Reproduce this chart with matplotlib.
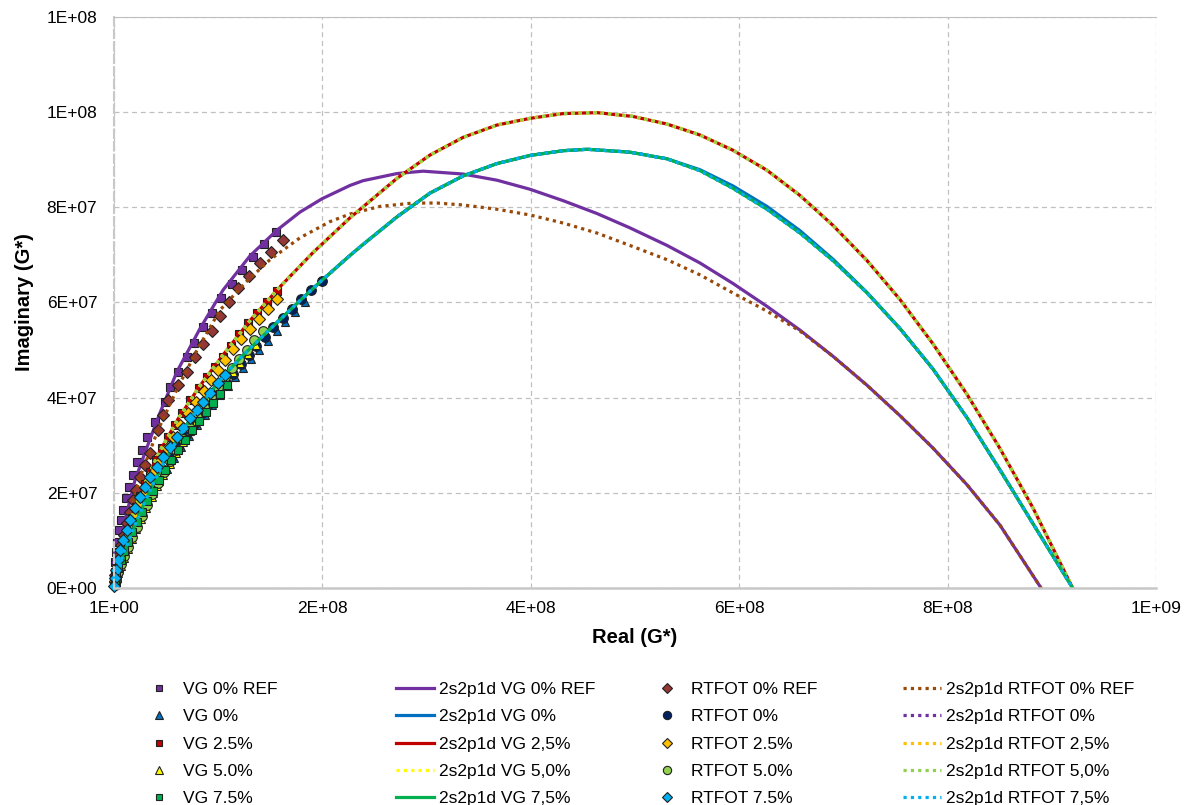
import numpy as np
import matplotlib.pyplot as plt
from matplotlib.lines import Line2D

plt.rcParams['font.family'] = ['Liberation Sans', 'DejaVu Sans']

# ---- model curves (x in 1e8, y in 1e7) ----
ref_vg_fit_x = [0, 0.038, 0.106, 0.202, 0.317, 0.441, 0.605, 0.825, 1.046, 1.305, 1.564, 1.785, 1.996,
                2.265, 2.39, 2.716, 2.966, 3.35, 3.676, 3.992, 4.31, 4.635, 4.95, 5.307, 5.624, 5.94,
                6.266, 6.583, 6.90, 7.227, 7.544, 7.86, 8.186, 8.503, 8.897]
ref_vg_fit_y = [0, 0.588, 1.43, 2.27, 2.96, 3.68, 4.55, 5.45, 6.26, 6.98, 7.52, 7.90, 8.18,
                8.46, 8.56, 8.71, 8.76, 8.70, 8.57, 8.38, 8.14, 7.87, 7.57, 7.20, 6.83, 6.40,
                5.92, 5.42, 4.87, 4.26, 3.62, 2.94, 2.17, 1.32, 0]

ref_rt_fit_x = [0, 0.058, 0.125, 0.250, 0.422, 0.614, 0.797, 1.017, 1.276, 1.497, 1.785, 2.073, 2.265,
                2.553, 2.87, 3.10, 3.35, 3.676, 3.992, 4.31, 4.635, 4.95, 5.307, 5.624, 5.94, 6.266,
                6.583, 6.90, 7.227, 7.544, 7.86, 8.186, 8.503, 8.897]
ref_rt_fit_y = [0, 0.693, 1.366, 2.33, 3.32, 4.22, 5.00, 5.84, 6.45, 6.90, 7.36, 7.70, 7.86,
                8.02, 8.09, 8.09, 8.05, 7.96, 7.84, 7.67, 7.46, 7.20, 6.90, 6.58, 6.20, 5.82,
                5.40, 4.87, 4.26, 3.62, 2.94, 2.17, 1.32, 0]

# curves for VG 2,5% / VG 5,0% / RTFOT 2,5% / RTFOT 5,0%
top_fit_x = [0, 0.077, 0.173, 0.298, 0.441, 0.614, 0.825, 1.065, 1.305, 1.593, 1.910, 2.265, 2.716,
             3.033, 3.35, 3.676, 3.992, 4.31, 4.635, 4.981, 5.307, 5.624, 5.94, 6.266, 6.583, 6.90,
             7.227, 7.544, 7.86, 8.186, 8.503, 8.82, 9.20]
top_fit_y = [0, 0.80, 1.50, 2.20, 2.88, 3.55, 4.25, 4.95, 5.62, 6.33, 7.05, 7.78, 8.61,
             9.10, 9.47, 9.73, 9.87, 9.97, 9.99, 9.91, 9.75, 9.52, 9.20, 8.78, 8.25, 7.62,
             6.88, 6.06, 5.13, 4.07, 2.93, 1.68, 0]

# curves for VG 0% / VG 7,5% / RTFOT 0% / RTFOT 7,5%
mid_fit_x = [0, 0.086, 0.182, 0.278, 0.374, 0.489, 0.662, 0.854, 1.046, 1.238, 1.430, 1.612, 1.785,
             1.977, 2.265, 2.39, 2.716, 3.033, 3.35, 3.676, 3.992, 4.31, 4.54, 4.95, 5.307, 5.624,
             5.94, 6.266, 6.583, 6.90, 7.227, 7.544, 7.86, 8.186, 8.503, 8.82, 9.20]
mid_fit_y = [0, 0.69, 1.22, 1.72, 2.18, 2.68, 3.32, 3.92, 4.44, 4.89, 5.30, 5.68, 6.04,
             6.43, 6.99, 7.22, 7.80, 8.30, 8.66, 8.92, 9.09, 9.19, 9.22, 9.16, 9.02, 8.77,
             8.40, 7.96, 7.46, 6.88, 6.20, 5.45, 4.60, 3.58, 2.48, 1.35, 0]
vg0_fit_y = [0, 0.69, 1.22, 1.72, 2.18, 2.68, 3.32, 3.92, 4.44, 4.89, 5.30, 5.68, 6.04,
             6.43, 6.99, 7.22, 7.80, 8.30, 8.66, 8.92, 9.09, 9.19, 9.22, 9.16, 9.02, 8.79,
             8.45, 8.02, 7.51, 6.91, 6.21, 5.45, 4.60, 3.58, 2.48, 1.35, 0]

# ---- measured points (x, y in 1e6) ----
vg_ref_x = [155.5, 144.0, 133.4, 122.8, 113.2, 102.7, 94.1, 85.4, 76.8, 70.1, 61.4, 53.7, 48.9, 39.3,
            31.7, 26.9, 22.1, 18.2, 14.4, 11.5, 8.6, 6.7, 4.8, 2.9, 1.9, 1.0, 0.5, 0.2]
vg_ref_y = [74.8, 72.3, 69.5, 66.8, 63.9, 60.9, 57.8, 54.8, 51.5, 48.5, 45.4, 42.2, 39.1, 34.9,
            31.7, 29.0, 26.5, 23.7, 21.2, 18.9, 16.4, 14.3, 12.2, 9.7, 7.6, 5.5, 3.4, 1.7]

rt_ref_x = [162.2, 150.7, 140.1, 129.6, 119.0, 110.4, 101.7, 94.1, 85.4, 77.7, 70.1, 61.4, 51.8, 47.0,
            42.2, 34.5, 29.8, 25.0, 21.1, 18.2, 15.4, 12.5, 9.6, 6.7, 4.8, 2.9, 1.4, 0.5]
rt_ref_y = [73.1, 70.6, 68.3, 65.6, 63.0, 60.1, 57.1, 54.0, 51.3, 48.5, 45.4, 42.7, 39.5, 36.3,
            33.2, 28.4, 25.8, 23.3, 20.6, 18.5, 16.0, 13.7, 11.1, 9.0, 6.9, 4.8, 2.7, 1.3]

vg0_x = [183.0, 173.5, 164.5, 156.0, 147.5, 139.5, 131.5, 124.0, 116.5, 109.0, 102.0, 94.5, 87.0,
         79.5, 72.0, 64.5, 57.5, 50.5, 43.5, 37.0, 31.0, 25.5, 20.5, 15.8, 11.8, 8.0, 5.0, 2.2, 0.6]
vg0_y = [60.0, 58.0, 56.0, 54.0, 52.0, 50.1, 48.2, 46.3, 44.4, 42.5, 40.5, 38.5, 36.4,
         34.2, 32.0, 29.6, 27.3, 25.0, 22.5, 20.0, 17.6, 15.3, 13.0, 10.7, 8.6, 6.4, 4.5, 2.6, 0.9]

rt0_x = [199.6, 189.1, 179.5, 170.8, 162.2, 152.6, 144.9, 136.3, 129.6, 121.9, 114.2, 107.5, 99.8,
         92.1, 84.5, 76.8, 69.1, 61.4, 54.7, 48.0, 41.3, 35.5, 29.8, 25.0, 20.2, 15.4, 11.5, 7.7,
         4.8, 1.9, 0.5]
rt0_y = [64.5, 62.6, 60.7, 58.6, 56.7, 54.8, 52.7, 50.8, 49.0, 47.1, 45.0, 43.1, 41.0,
         38.9, 36.8, 34.5, 32.1, 29.6, 27.3, 24.8, 22.3, 19.7, 17.4, 15.1, 12.8, 10.5, 8.4, 6.3,
         4.4, 2.5, 0.8]

vg25_x = [156.4, 146.8, 137.2, 128.6, 120.0, 112.3, 104.6, 96.9, 89.3, 81.6, 72.9, 65.3, 58.5, 51.8,
          46.1, 40.3, 34.5, 29.8, 25.0, 21.1, 17.3, 13.4, 10.6, 7.7, 5.8, 3.8, 1.9, 1.0]
vg25_y = [62.4, 60.1, 57.8, 55.7, 53.4, 50.8, 48.5, 46.4, 44.3, 42.0, 39.5, 36.8, 34.2, 31.7,
          29.4, 26.9, 24.4, 21.9, 19.3, 17.0, 14.7, 12.2, 10.1, 8.0, 5.9, 4.2, 2.5, 1.1]

rt25_x = [156.4, 147.8, 139.2, 130.5, 121.9, 114.2, 106.5, 99.8, 93.1, 86.4, 78.7, 71.0, 63.3, 56.6,
          50.9, 45.1, 39.3, 33.6, 28.8, 24.0, 20.2, 16.3, 12.5, 9.6, 6.7, 4.8, 2.9, 1.0]
rt25_y = [60.7, 58.6, 56.5, 54.4, 52.3, 50.2, 47.9, 45.8, 43.7, 41.4, 39.1, 36.8, 34.2, 31.7,
          29.4, 26.9, 24.6, 22.1, 19.7, 17.4, 15.1, 12.8, 10.7, 8.6, 6.5, 4.8, 3.2, 1.5]

vg50_x = [136.0, 128.5, 121.0, 114.0, 107.0, 100.0, 93.0, 86.0, 79.0, 72.5, 66.0, 59.5, 53.5,
          47.5, 41.5, 36.0, 31.0, 26.0, 21.5, 17.0, 13.0, 9.5, 6.5, 3.8, 1.8, 0.5]
vg50_y = [51.0, 49.1, 47.2, 45.3, 43.4, 41.4, 39.4, 37.3, 35.2, 33.0, 30.7, 28.4, 26.1,
          23.8, 21.5, 19.2, 16.9, 14.6, 12.4, 10.3, 8.3, 6.4, 4.7, 3.1, 1.7, 0.6]

rt50_x = [143.0, 134.4, 127.6, 120.0, 113.2, 106.5, 99.8, 93.1, 86.4, 79.7, 72.9, 66.2, 59.5, 53.7,
          48.0, 42.2, 36.5, 31.7, 26.9, 22.1, 17.3, 13.4, 9.6, 6.7, 3.8, 1.9, 0.5]
rt50_y = [54.0, 52.1, 50.0, 48.1, 46.2, 44.3, 42.2, 40.1, 38.0, 35.9, 33.6, 31.3, 29.0, 26.7,
          24.4, 22.1, 19.7, 17.4, 15.1, 12.8, 10.7, 8.6, 6.7, 5.0, 3.4, 1.9, 0.6]

vg75_x = [108.4, 101.7, 95.0, 88.3, 81.6, 74.9, 68.1, 61.4, 54.7, 48.9, 43.2, 37.4, 31.7, 26.9,
          22.1, 17.3, 13.4, 9.6, 6.7, 3.8, 1.9, 0.5]
vg75_y = [42.7, 40.8, 38.9, 37.0, 35.1, 33.2, 31.1, 29.0, 26.9, 24.8, 22.7, 20.4, 18.3, 16.0,
          13.9, 11.8, 9.7, 7.8, 5.9, 4.2, 2.5, 1.1]

rt75_x = [106.5, 99.8, 92.1, 85.4, 79.7, 72.9, 66.2, 60.5, 53.7, 47.0, 41.3, 34.5, 29.8, 25.0,
          20.2, 15.4, 12.5, 8.6, 5.8, 3.8, 1.9, 1.0, 0.2]
rt75_y = [44.8, 43.1, 41.0, 39.1, 37.4, 35.7, 33.6, 31.7, 29.6, 27.5, 25.4, 23.3, 21.2, 19.1,
          16.8, 14.3, 12.2, 10.1, 8.0, 5.9, 3.8, 2.1, 0.4]

x_ticks = [0, 2e8, 4e8, 6e8, 8e8, 1e9]
x_tick_labels = ['1E+00', '2E+08', '4E+08', '6E+08', '8E+08', '1E+09']
y_ticks = [0, 2e7, 4e7, 6e7, 8e7, 1e8, 1.2e8]
y_tick_labels = ['0E+00', '2E+07', '4E+07', '6E+07', '8E+07', '1E+08', '1E+08']

fig = plt.figure(figsize=(11.95, 8.05), dpi=100)
ax = fig.add_axes([114 / 1195, 1 - 588 / 805, 1042 / 1195, 571 / 805])

edge = '#202020'
dot = (0, (1, 1.3))
lw = 2.3


def pts(xs, ys, marker, color, size, label):
    ax.plot(np.array(xs) * 1e6, np.array(ys) * 1e6, linestyle='none', marker=marker, ms=size,
            mfc=color, mec=edge, mew=0.8, clip_on=False)
    return Line2D([], [], linestyle='none', marker=marker, ms=size * 0.85, mfc=color, mec=edge,
                  mew=0.8, label=label)


def fit(xs, ys, color, style, label):
    ax.plot(np.array(xs) * 1e8, np.array(ys) * 1e7, color=color, lw=lw, linestyle=style,
            solid_joinstyle='round')
    return Line2D([], [], color=color, lw=lw, linestyle=style, label=label)


# drawn in the original series order (row by row of the legend)
h = {}
h['a1'] = pts(vg_ref_x, vg_ref_y, 's', '#7030A0', 5.5, 'VG 0% REF')
h['b1'] = fit(ref_vg_fit_x, ref_vg_fit_y, '#7030A0', '-', '2s2p1d VG 0% REF')
h['c1'] = pts(rt_ref_x, rt_ref_y, 'D', '#953735', 6.5, 'RTFOT 0% REF')
h['d1'] = fit(ref_rt_fit_x, ref_rt_fit_y, '#984807', dot, '2s2p1d RTFOT 0% REF')

h['a2'] = pts(vg0_x, vg0_y, '^', '#0070C0', 6, 'VG 0%')
h['b2'] = fit(mid_fit_x, vg0_fit_y, '#0070C0', '-', '2s2p1d VG 0%')
h['c2'] = pts(rt0_x, rt0_y, 'o', '#002060', 7, 'RTFOT 0%')
h['d2'] = fit(mid_fit_x, mid_fit_y, '#7030A0', dot, '2s2p1d RTFOT 0%')

h['a3'] = pts(vg25_x, vg25_y, 's', '#C00000', 5.5, 'VG 2.5%')
h['b3'] = fit(top_fit_x, top_fit_y, '#C00000', '-', '2s2p1d VG 2,5%')
h['c3'] = pts(rt25_x, rt25_y, 'D', '#FFC000', 6.5, 'RTFOT 2.5%')
h['d3'] = fit(top_fit_x, top_fit_y, '#FFC000', dot, '2s2p1d RTFOT 2,5%')

h['a4'] = pts(vg50_x, vg50_y, '^', '#FFFF00', 6, 'VG 5.0%')
h['b4'] = fit(top_fit_x, top_fit_y, '#FFFF00', dot, '2s2p1d VG 5,0%')
h['c4'] = pts(rt50_x, rt50_y, 'o', '#92D050', 7, 'RTFOT 5.0%')
h['d4'] = fit(top_fit_x, top_fit_y, '#92D050', dot, '2s2p1d RTFOT 5,0%')

h['a5'] = pts(vg75_x, vg75_y, 's', '#00B050', 5.5, 'VG 7.5%')
h['b5'] = fit(mid_fit_x, mid_fit_y, '#00B050', '-', '2s2p1d VG 7,5%')
h['c5'] = pts(rt75_x, rt75_y, 'D', '#00B0F0', 6.5, 'RTFOT 7.5%')
h['d5'] = fit(mid_fit_x, mid_fit_y, '#00B0F0', dot, '2s2p1d RTFOT 7,5%')

ax.set_xlim(0, 1e9)
ax.set_ylim(0, 1.2e8)
ax.set_xticks(x_ticks)
ax.set_xticklabels(x_tick_labels)
ax.set_yticks(y_ticks)
ax.set_yticklabels(y_tick_labels)
ax.tick_params(length=0, labelsize=12.5, colors='black')
ax.tick_params(axis='x', pad=9)
ax.tick_params(axis='y', pad=12)
ax.grid(True, color='#c0c0c0', linestyle=(0, (4, 3)), lw=0.9)
ax.set_axisbelow(True)
ax.spines['right'].set_visible(False)
ax.spines['top'].set_color('#bfbfbf')
ax.spines['left'].set_color('#c8c8c8')
ax.spines['left'].set_linestyle((0, (4, 2)))
ax.spines['left'].set_linewidth(1.5)
ax.spines['bottom'].set_color('#c8c8c8')
ax.spines['bottom'].set_linewidth(1.8)

ax.set_xlabel('Real (G*)', fontsize=14.5, fontweight='bold', labelpad=9)
ax.set_ylabel('Imaginary (G*)', fontsize=14.5, fontweight='bold', labelpad=9)

# legend: four columns placed like the original
for col, x_px in zip('abcd', [140, 396, 648, 903]):
    fig.legend(handles=[h[col + str(i)] for i in range(1, 6)], loc='upper left',
               bbox_to_anchor=(x_px / 1195, 1 - 682 / 805), frameon=False, fontsize=12.5,
               handlelength=2.2, handletextpad=0.3, labelspacing=0.7, borderpad=0,
               borderaxespad=0)

fig.savefig('out.png', dpi=100)
